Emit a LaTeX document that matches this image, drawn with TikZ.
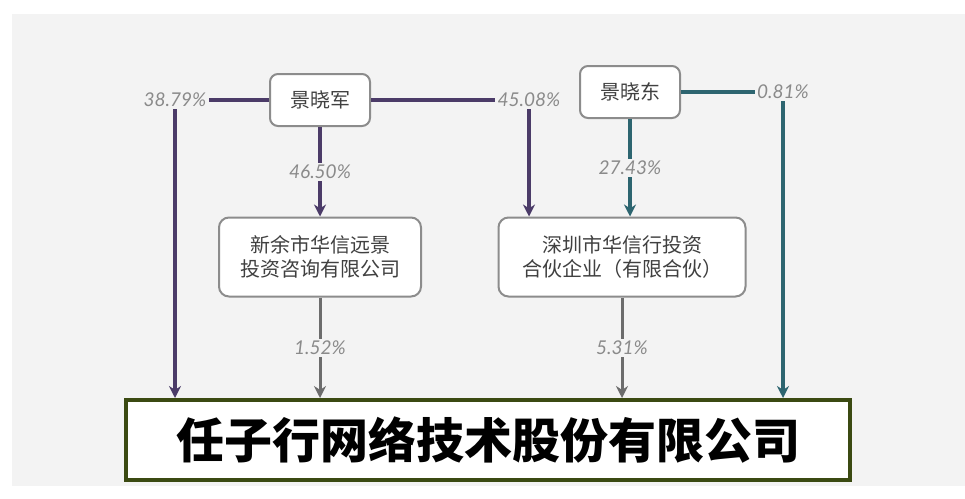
\documentclass[tikz,border=0pt]{standalone}
\usepackage{fontspec}
\setmainfont{Lato}
\newfontfamily\cjk{Noto Sans CJK SC}
\usepackage{tikz}
\usetikzlibrary{positioning}
\usetikzlibrary{arrows.meta}
\definecolor{bggray}{HTML}{F3F3F3}
\definecolor{junline}{HTML}{4B3B68}
\definecolor{dongline}{HTML}{2D6570}
\definecolor{boxgray}{HTML}{8C8C8C}
\definecolor{pcttext}{HTML}{8A8A8A}
\definecolor{firmgreen}{HTML}{3B4A12}
\tikzset{
    holding chart/.style={
            x=1pt,y=-1pt,
            person/.style={draw=boxgray,line width=2pt,rounded corners=8pt,fill=white,
                minimum width=100pt,minimum height=52pt,text=black!75,
                font=\cjk\fontsize{20}{20}\selectfont},
            holder/.style={draw=boxgray,line width=2pt,rounded corners=10pt,fill=white,
                minimum height=79pt,align=center,text=black!75,
                font=\cjk\fontsize{20}{24}\selectfont},
            firm/.style={draw=firmgreen,line width=4pt,fill=white,
                minimum width=724pt,minimum height=80pt,
                font=\cjk\bfseries\fontsize{48}{48}\selectfont},
            pct/.style={text=pcttext,fill=bggray,inner sep=2pt,
                font=\itshape\fontsize{19}{19}\selectfont},
            jun/.style={draw=junline,line width=3.5pt},
            dong/.style={draw=dongline,line width=3.5pt},
            share/.style={draw=gray!85!black,line width=3pt},
            arrow/.style={-{Stealth[length=12pt,width=12pt]}}
        }
    }
\begin{document}
\begin{tikzpicture}[holding chart]
        \useasboundingbox (0,0) rectangle (965,498);
        \fill [bggray] (12,14) rectangle (965,486);
        % people
        \node [person] (jun) at (320,100) {景晓军};
        \node [person] (dong) at (630,92) {景晓东};
        % holding companies
        \node [holder, minimum width=202pt] (xinyu) at (320,257) {新余市华信远景\\投资咨询有限公司};
        \node [holder, minimum width=247pt] (huaxin) at (622,257) {深圳市华信行投资\\合伙企业（有限合伙）};
        \node [firm] (renzixing) at (488,440) {任子行网络技术股份有限公司};
        % corner labels
        \node [pct] (p3879) at (175,100) {38.79\%};
        \node [pct] (p4508) at (529,100) {45.08\%};
        \node [pct] (p0081) at (783,92) {0.81\%};
        % Jing Xiaojun
        \draw [jun] (jun) -- (p3879);
        \draw [jun, arrow] (p3879) -- (p3879 |- renzixing.north);
        \draw [jun] (jun) -- (p4508);
        \draw [jun, arrow] (p4508) -- (p4508 |- huaxin.north);
        \draw [jun, arrow] (jun) -- (xinyu) node [pct, midway] {46.50\%};
        % Jing Xiaodong
        \draw [dong] (dong) -- (p0081);
        \draw [dong, arrow] (p0081) -- (p0081 |- renzixing.north);
        \draw [dong, arrow] (dong) -- (dong |- huaxin.north) node [pct, midway] {27.43\%};
        % companies to the listed firm
        \draw [share, arrow] (xinyu) -- (xinyu |- renzixing.north) node [pct, midway] {1.52\%};
        \draw [share, arrow] (huaxin) -- (huaxin |- renzixing.north) node [pct, midway] {5.31\%};
    \end{tikzpicture}
\end{document}
